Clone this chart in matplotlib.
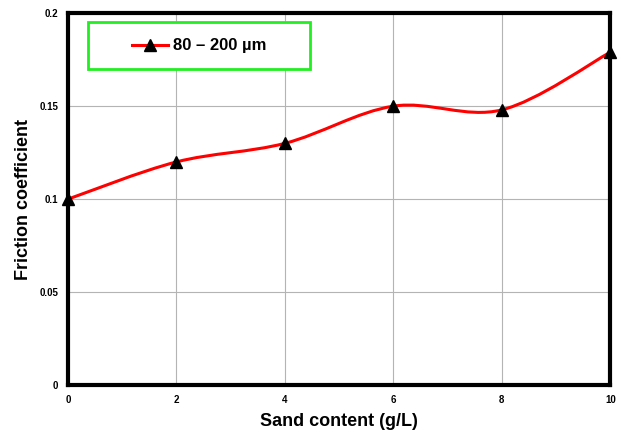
import numpy as np
import matplotlib.pyplot as plt
from matplotlib.path import Path
from matplotlib.patches import PathPatch, Rectangle
from matplotlib.lines import Line2D

plt.rcParams['font.family'] = ['Liberation Sans', 'DejaVu Sans']

# data
sand = [0, 2, 4, 6, 8, 10]
friction = [0.1, 0.12, 0.13, 0.15, 0.148, 0.179]
label = '80 – 200 µm'
xticks = [0, 2, 4, 6, 8, 10]
yticks = [0, 0.05, 0.1, 0.15, 0.2]
yticklabels = ['0', '0.05', '0.1', '0.15', '0.2']

fig = plt.figure(figsize=(6.24, 4.4), dpi=100)
ax = fig.add_axes([0.109, 0.125, 0.869, 0.845])

# smoothed line like a spreadsheet "smooth line" (cubic bezier segments)
pts = np.column_stack([sand, friction])
ext = np.vstack([pts[0], pts, pts[-1]])
verts = [tuple(pts[0])]
codes = [Path.MOVETO]
for i in range(len(pts) - 1):
    p0, p1, p2, p3 = ext[i], ext[i + 1], ext[i + 2], ext[i + 3]
    c1 = p1 + (p2 - p0) / 6
    c2 = p2 - (p3 - p1) / 6
    verts += [tuple(c1), tuple(c2), tuple(p2)]
    codes += [Path.CURVE4] * 3
ax.add_patch(PathPatch(Path(verts, codes), facecolor='none', edgecolor='red',
                       lw=2.2, zorder=3, clip_on=False))
ax.plot(sand, friction, ls='none', marker='^', ms=9, color='black', zorder=4,
        clip_on=False)

ax.set_xlim(0, 10)
ax.set_ylim(0, 0.2)
ax.set_xticks(xticks)
ax.set_yticks(yticks)
ax.set_yticklabels(yticklabels)
ax.tick_params(length=0, labelsize=7, pad=7)
for t in ax.get_xticklabels() + ax.get_yticklabels():
    t.set_fontweight('bold')
ax.grid(True, color='#b4b4b4', lw=0.8)
ax.set_axisbelow(True)
for s in ax.spines.values():
    s.set_linewidth(3)
    s.set_color('black')

ax.set_xlabel('Sand content (g/L)', fontsize=13, fontweight='bold', labelpad=6)
ax.set_ylabel('Friction coefficient', fontsize=13, fontweight='bold', labelpad=5)

# legend box
ax.add_patch(Rectangle((0.037, 0.849), 0.41, 0.126, transform=ax.transAxes,
                       facecolor='white', edgecolor='#22ee22', lw=2, zorder=5))
h = Line2D([], [], color='red', lw=2.2, marker='^', ms=9, mfc='black', mec='black')
leg = ax.legend([h], [label], loc='center', bbox_to_anchor=(0.242, 0.912),
                prop={'weight': 'bold', 'size': 12}, frameon=False,
                handlelength=2.2, handletextpad=0.3, borderaxespad=0)
leg.set_zorder(6)

fig.savefig('out.png', dpi=100)
